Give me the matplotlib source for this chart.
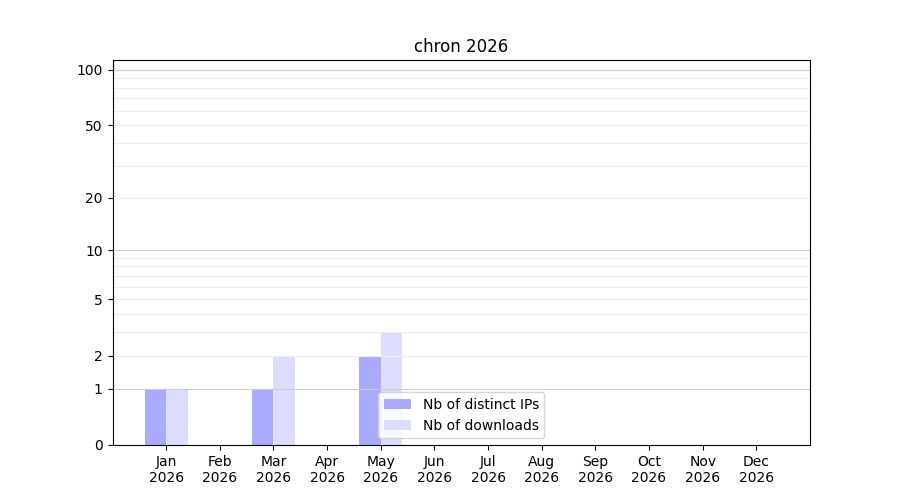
import numpy as np
import matplotlib
matplotlib.use("Agg")
import matplotlib.pyplot as plt

months = ["Jan", "Feb", "Mar", "Apr", "May", "Jun", "Jul", "Aug", "Sep", "Oct", "Nov", "Dec"]
year = "2026"
distinct_ips = [1, 0, 1, 0, 2, 0, 0, 0, 0, 0, 0, 0]
downloads = [1, 0, 2, 0, 3, 0, 0, 0, 0, 0, 0, 0]
yticks = [0, 1, 2, 5, 10, 20, 50, 100]


def fwd(y):
    return np.log10(1 + np.maximum(y, 0))


def inv(y):
    return 10 ** y - 1


fig, ax = plt.subplots(figsize=(9, 5), dpi=100)
ax.set_yscale("function", functions=(fwd, inv))

x = np.arange(len(months))
ax.bar(x - 0.2, distinct_ips, width=0.4, color="#aaaaff", label="Nb of distinct IPs", zorder=2)
ax.bar(x + 0.2, downloads, width=0.4, color="#ddddff", label="Nb of downloads", zorder=2)

# grid lines on top of bars: decades darker, the rest light
for v in list(range(1, 10)) + list(range(10, 101, 10)):
    col = "#cccccc" if v in (1, 10, 100) else "#eeeeee"
    ax.axhline(v, color=col, linewidth=0.8, zorder=3)

for sp in ax.spines.values():
    sp.set_zorder(4)

ax.set_xticks(x)
ax.set_xticklabels([m + "\n" + year for m in months])
ax.set_xlim(-1, 12)
ax.set_ylim(0, 113)
ax.set_yticks(yticks)
ax.set_yticklabels([str(t) for t in yticks])
ax.yaxis.set_minor_locator(matplotlib.ticker.NullLocator())
ax.set_title("chron 2026")
leg = ax.legend(loc="lower center")
leg.set_zorder(5)

fig.savefig("out.png")
